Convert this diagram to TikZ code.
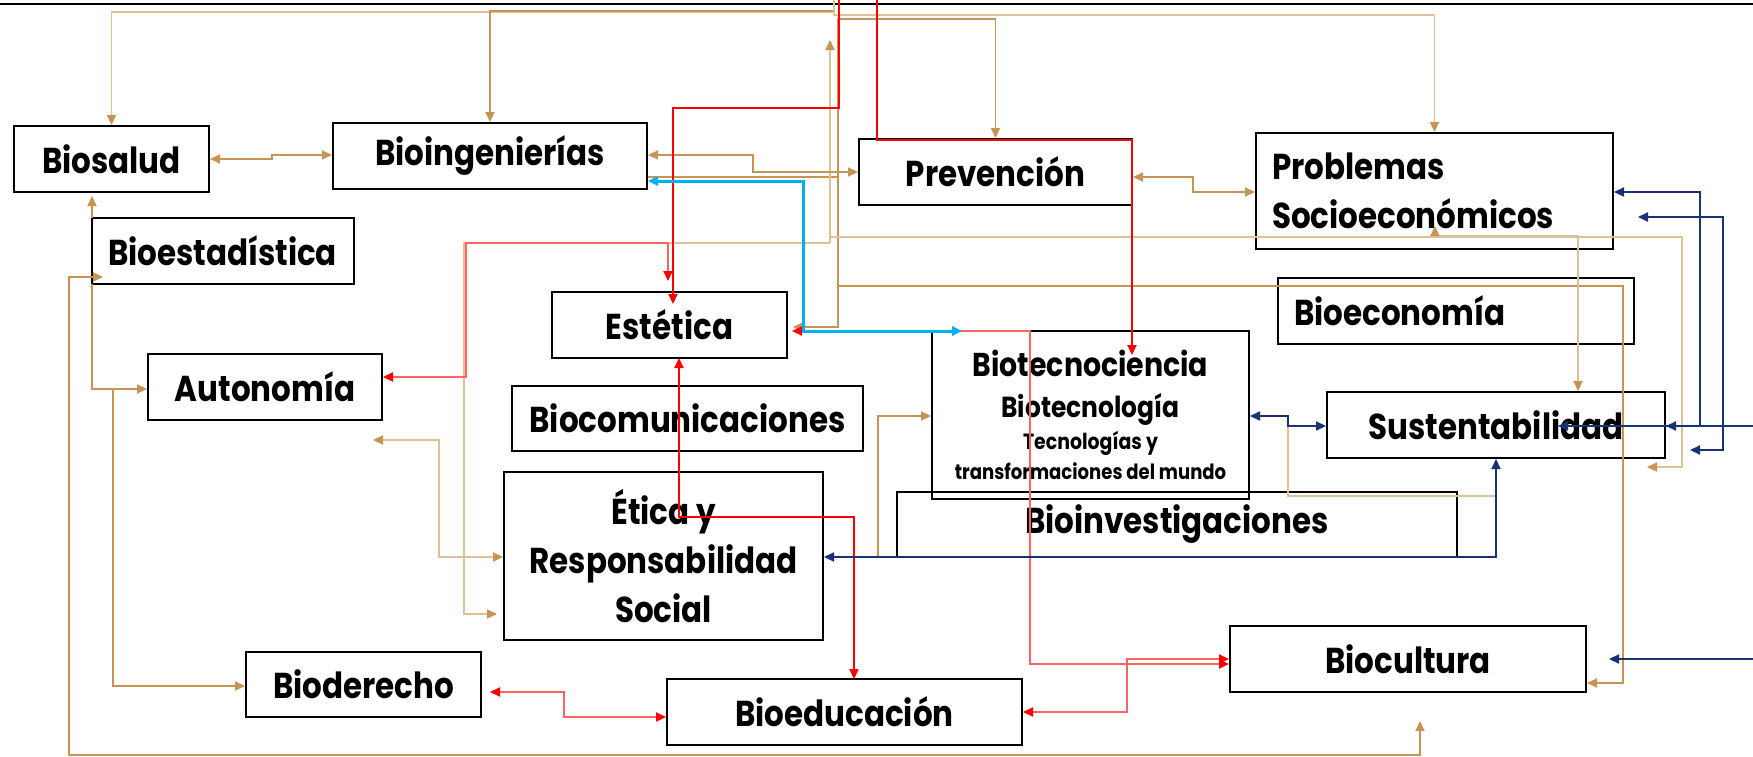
\documentclass[tikz,border=0pt]{standalone}
\usepackage{fontspec}
\setmainfont{Poppins}[FakeStretch=0.86]
\usetikzlibrary{arrows.meta}
\definecolor{linetan}{RGB}{198,148,84}
\definecolor{paletan}{RGB}{224,192,150}
\definecolor{linered}{RGB}{255,0,0}
\definecolor{palered}{RGB}{255,100,100}
\definecolor{lineblue}{RGB}{0,176,240}
\definecolor{linenavy}{RGB}{25,50,115}
\begin{document}
\begin{tikzpicture}[x=0.5pt,y=-0.5pt,
    box/.style={draw,line width=1pt,inner sep=0pt,font=\fontsize{18}{24.5}\selectfont\bfseries},
    tanln/.style={draw=linetan,line width=0.6pt,>={Triangle[length=5pt,width=4.6pt]}},
    paletan/.style={draw=paletan,line width=0.6pt,>={Triangle[length=5pt,width=4.6pt,color=linetan]}},
    redln/.style={draw=linered,line width=0.6pt,>={Triangle[length=5pt,width=4.6pt]}},
    palered/.style={draw=palered,line width=0.6pt,>={Triangle[length=5pt,width=4.6pt,color=linered]}},
    blueln/.style={draw=lineblue,line width=1.5pt,>={Triangle[length=5pt,width=4.6pt]}},
    navyln/.style={draw=linenavy,line width=0.6pt,>={Triangle[length=5pt,width=4.6pt]}}]
    \useasboundingbox (0,0) rectangle (1753,756);
    \draw [line width=1.2pt] (0,4) -- (1753,4) ;

    \node[box,minimum width=97.5pt,minimum height=33pt] (biosalud) at (111.5,159) {Biosalud};
    \node[box,minimum width=157pt,minimum height=33pt] (bioing) at (490,156) {Bioingenierías};
    \node[box,minimum width=136.5pt,minimum height=33pt] (prevencion) at (995.5,172) {Prevención};
    \node[box,minimum height=58pt,text width=162.5pt,inner xsep=8pt,align=left] (problemas) at (1434.5,191) {Problemas\\Socioeconómicos};
    \node[box,minimum height=33pt,text width=115pt,inner xsep=8pt,align=left] (bioestad) at (223,251) {Bioestadística};
    \node[box,minimum height=33pt,text width=162pt,inner xsep=8pt,align=left] (bioecon) at (1456,311) {Bioeconomía};
    \node[box,minimum width=117.5pt,minimum height=33pt] (estetica) at (669.5,325) {Estética};
    \node[box,minimum width=117pt,minimum height=33pt] (autonomia) at (265,387) {Autonomía};
    \node[box,minimum width=175.5pt,minimum height=32.5pt] (biocom) at (687.5,418.5) {Biocomunicaciones};
    \node[box,minimum width=158.5pt,minimum height=84pt,align=center,font=\fontsize{10.5}{15}\selectfont\bfseries] (biotec) at (1090.5,415)
        {{\fontsize{16.5}{20}\selectfont Biotecnociencia}\\[5.5pt]{\fontsize{14.5}{18}\selectfont Biotecnología}\\[1pt]{\fontsize{11}{15}\selectfont Tecnologías y}\\transformaciones del mundo};
    \node[box,minimum width=169pt,minimum height=33pt] (sustent) at (1496,425) {Sustentabilidad};
    \node[box,minimum width=159.5pt,minimum height=84pt,align=center] (etica) at (663.5,556) {Ética y\\Responsabilidad\\Social};
    \node[box,minimum width=280pt,minimum height=32.5pt] (bioinv) at (1177,524.5) {Bioinvestigaciones};
    \node[box,minimum width=178pt,minimum height=33pt] (biocult) at (1408,659) {Biocultura};
    \node[box,minimum width=117.5pt,minimum height=32.5pt] (bioderecho) at (363.5,684.5) {Bioderecho};
    \node[box,minimum width=177.5pt,minimum height=33pt] (bioeduc) at (844.5,712) {Bioeducación};

    \draw [paletan,->] (834,0) -- (834,12) -- (111.5,12) -- (biosalud.north) ;
    \draw [tanln,->] (834,11) -- (490,11) -- (bioing.north) ;
    \draw [paletan,->] (834,0) -- (834,15) -- (1434.5,15) -- (problemas.north) ;
    \draw [tanln,->] (838,177) -- (838,19) -- (995.5,19) -- (prevencion.north) ;
    \draw [tanln,->] (bioing.east |- 0,177) -- (838,177) -- (838,327) -- (793,327) ;
    \draw [tanln,->] (838,286) -- (1623,286) -- (1623,683) -- (biocult.east |- 0,683) ;
    \draw [paletan,->] (830,243) -- (830,40) ;
    \draw [paletan,->] (830,243) -- (464,243) -- (464,614) -- (497,614) ;
    \draw [paletan,->] (830,237) -- (1682,237) -- (1682,467) -- (1647,467) ;

    \draw [tanln,<->] (biosalud.east) -- (272,159) -- (272,155) -- (bioing.west |- 0,155) ;
    \draw [tanln,<->] (bioing.east |- 0,155) -- (753,155) -- (753,172) -- (prevencion.west) ;
    \draw [tanln,<->] (prevencion.east |- 0,177) -- (1193,177) -- (1193,192) -- (problemas.west |- 0,192) ;
    \draw [paletan,<->] (sustent.north -| 1578,0) -- (1578,236) -- (1435,236) -- (1435,226) ;
    \draw [tanln,->] (92,218) -- (92,196) ;
    \draw [tanln,->] (92,284) -- (92,389) -- (autonomia.west |- 0,389) ;
    \draw [tanln,->] (113,389) -- (113,686) -- (bioderecho.west |- 0,686) ;
    \draw [tanln,<->] (103,277) -- (69,277) -- (69,755) -- (1420,755) -- (1420,721) ;
    \draw [paletan,<->] (373,440) -- (439,440) -- (439,557) -- (etica.west |- 0,557) ;
    \draw [paletan] (1288,426) -- (1288,496) -- (1496,496) ;
    \draw [tanln,->] (878,557) -- (878,416) -- (biotec.west |- 0,416) ;

    \draw [redln,->] (877,0) -- (877,140) -- (1132,140) -- (1132,355) ;
    \draw [redln,->] (839,0) -- (839,108) -- (673,108) -- (673,304) ;
    \draw [palered,<->] (autonomia.east |- 0,377) -- (466,377) -- (466,243) -- (668,243) -- (668,281) ;
    \draw [palered,<->] (792,331) -- (1030,331) -- (1030,664) -- (biocult.west |- 0,664) ;
    \draw [redln,<->] (679,358) -- (679,517) -- (854,517) -- (854,679) ;
    \draw [palered,<->] (490,692) -- (564,692) -- (564,717) -- (bioeduc.west |- 0,717) ;
    \draw [palered,<->] (bioeduc.east |- 0,712) -- (1127,712) -- (1127,659) -- (biocult.west |- 0,659) ;

    \draw [blueln,<->] (bioing.east |- 0,181) -- (803,181) -- (803,331) -- (962,331) ;

    \draw [navyln,<->] (biotec.east |- 0,416) -- (1288,416) -- (1288,426) -- (sustent.west |- 0,426) ;
    \draw [navyln,<->] (etica.east |- 0,557) -- (1496,557) -- (sustent.south) ;
    \draw [navyln,->] (1753,426) -- (1558,426) ;
    \draw [navyln,->] (1700,426) -- (sustent.east |- 0,426) ;
    \draw [navyln,->] (1700,426) -- (1700,192) -- (problemas.east |- 0,192) ;
    \draw [navyln,<->] (1690,450) -- (1723,450) -- (1723,217) -- (1638,217) ;
    \draw [navyln,->] (1753,659) -- (1609,659) ;
\end{tikzpicture}
\end{document}
